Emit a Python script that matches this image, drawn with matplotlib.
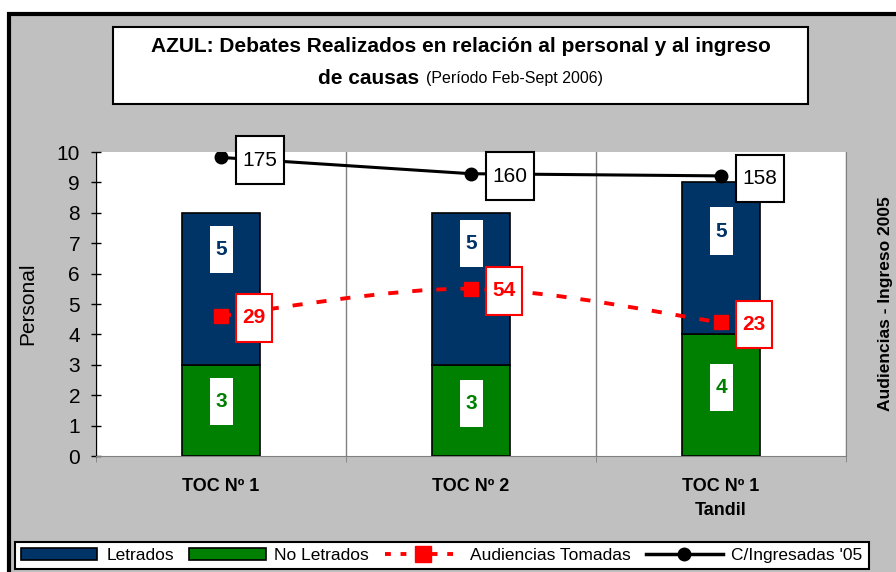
import numpy as np
import matplotlib
matplotlib.use("Agg")
import matplotlib.pyplot as plt
from matplotlib.patches import Rectangle, PathPatch
from matplotlib.path import Path
from matplotlib.lines import Line2D

plt.rcParams['font.family'] = ['Liberation Sans', 'DejaVu Sans']

# datos
categorias = ["TOC Nº 1", "TOC Nº 2", "TOC Nº 1\nTandil"]
no_letrados = [3, 3, 4]
letrados = [5, 5, 5]
audiencias = [29, 54, 23]
ingresadas = [175, 160, 158]

# posicion de las etiquetas de las barras (como en el original)
pos_lbl_letrados = [6.8, 7.0, 7.4]
pos_lbl_no_letrados = [1.8, 1.73, 2.25]

W, H = 896, 572
NAVY = '#003366'
GREEN = '#008000'
RED = '#FF0000'
GRAY = '#C0C0C0'

fig = plt.figure(figsize=(W / 100, H / 100), dpi=100, facecolor='white')

# fondo gris con borde negro
fig.patches.append(Rectangle((9 / W, -0.1), 1.2, (H - 14) / H + 0.1,
                             transform=fig.transFigure, facecolor=GRAY,
                             edgecolor='black', lw=3, zorder=-10))

# caja del titulo
fig.patches.append(Rectangle((113 / W, (H - 104) / H), (808 - 113) / W, (104 - 27) / H,
                             transform=fig.transFigure, facecolor='white',
                             edgecolor='black', lw=1.5, zorder=-5))
fig.text(460.5 / W, 1 - 47 / H, "AZUL: Debates Realizados en relación al personal y al ingreso",
         ha='center', va='center', fontsize=15, fontweight='bold')
t1 = fig.text(0, 1 - 78 / H, "de causas", ha='left', va='center', fontsize=15, fontweight='bold')
t2 = fig.text(0, 1 - 78 / H, "(Período Feb-Sept 2006)", ha='left', va='center', fontsize=11.5)

ax = fig.add_axes([96 / W, 116 / H, 750 / W, 304 / H])
ax.set_facecolor('white')
x = np.arange(len(categorias))
ancho = 0.31

b1 = ax.bar(x, no_letrados, ancho, color=GREEN, edgecolor='black', lw=1.2, label='No Letrados', zorder=3)
b2 = ax.bar(x, letrados, ancho, bottom=no_letrados, color=NAVY, edgecolor='black', lw=1.2,
            label='Letrados', zorder=3)

# etiquetas de las barras
for i in range(len(x)):
    for val, yy, col in ((letrados[i], pos_lbl_letrados[i], NAVY),
                         (no_letrados[i], pos_lbl_no_letrados[i], GREEN)):
        ax.add_patch(Rectangle((x[i] - 0.046, yy - 0.775), 0.092, 1.55,
                               facecolor='white', edgecolor='none', zorder=4))
        ax.text(x[i], yy, str(val), ha='center', va='center', color=col,
                fontsize=15, fontweight='bold', zorder=5)

ax.set_xlim(-0.5, 2.5)
ax.set_ylim(0, 10)
ax.set_yticks(range(0, 11))
ax.tick_params(axis='y', direction='inout', length=7, width=1, labelsize=15, pad=8)
ax.set_ylabel("Personal", fontsize=15, labelpad=14)

ax.set_xticks(x)
ax.set_xticklabels(categorias, fontsize=13, fontweight='bold', linespacing=1.5)
ax.tick_params(axis='x', which='major', length=0, pad=16)
ax.set_xticks([-0.5, 0.5, 1.5, 2.5], minor=True)
ax.tick_params(axis='x', which='minor', direction='out', length=4.5, color='#808080')
ax.grid(True, axis='x', which='minor', color='#808080', lw=1)
ax.set_axisbelow(True)

for s in ('top', 'right'):
    ax.spines[s].set_visible(False)
ax.spines['bottom'].set_color('#808080')
ax.spines['left'].set_color('black')

# eje secundario
ax2 = ax.twinx()
ax2.set_ylim(-100, 180)
ax2.set_yticks([])
for s in ('top', 'left', 'bottom'):
    ax2.spines[s].set_visible(False)
ax2.spines['right'].set_color('#808080')
ax2.set_ylabel("Audiencias - Ingreso 2005", fontsize=12.5, fontweight='bold', labelpad=23)

# linea suavizada de audiencias (curva tipo Excel)
pts = np.column_stack([x, audiencias]).astype(float)
verts = [pts[0]]
codes = [Path.MOVETO]
for k in range(len(pts) - 1):
    p0 = pts[k - 1] if k > 0 else pts[k]
    p3 = pts[k + 2] if k + 2 < len(pts) else pts[k + 1]
    c1 = pts[k] + (pts[k + 1] - p0) / 6
    c2 = pts[k + 1] - (p3 - pts[k]) / 6
    verts += [c1, c2, pts[k + 1]]
    codes += [Path.CURVE4] * 3
ax2.add_patch(PathPatch(Path(verts, codes), fill=False, edgecolor=RED, lw=2.8,
                        linestyle=(0, (2.6, 3.6)), zorder=3))
ax2.plot(x, audiencias, 's', color=RED, ms=10, zorder=4)

ax2.plot(x, ingresadas, '-o', color='black', lw=2.2, ms=9, zorder=4)

# etiquetas de las lineas
for i in range(len(x)):
    cx, cy = x[i] + 0.132, audiencias[i] - 1.8
    ax2.add_patch(Rectangle((cx - 0.072, cy - 22), 0.144, 44, facecolor='white',
                            edgecolor=RED, lw=1.5, zorder=5))
    ax2.text(cx, cy, str(audiencias[i]), ha='center', va='center', color=RED,
             fontsize=15, fontweight='bold', zorder=6)
    cx, cy = x[i] + 0.156, ingresadas[i] - 2.4
    ax2.add_patch(Rectangle((cx - 0.096, cy - 22), 0.192, 44, facecolor='white',
                            edgecolor='black', lw=1.5, zorder=5, clip_on=False))
    ax2.text(cx, cy, str(ingresadas[i]), ha='center', va='center', color='black',
             fontsize=15, zorder=6, clip_on=False)

# leyenda
handles = [Rectangle((0, 0), 1, 1, facecolor=NAVY, edgecolor='black', lw=1.2),
           Rectangle((0, 0), 1, 1, facecolor=GREEN, edgecolor='black', lw=1.2),
           Line2D([], [], color=RED, lw=2.8, linestyle=(0, (1.5, 2.5)), marker='s', ms=11),
           Line2D([], [], color='black', lw=2.5, marker='o', ms=9)]
labels = ['Letrados', 'No Letrados', 'Audiencias Tomadas', "C/Ingresadas '05"]
leg = fig.legend(handles, labels, loc='lower left', bbox_to_anchor=(15 / W, 3 / H),
                 ncol=4, fontsize=12.5, handlelength=4.4, handletextpad=0.5,
                 columnspacing=0.9, borderpad=0.35, fancybox=False, framealpha=1,
                 edgecolor='black', borderaxespad=0)
leg.get_frame().set_linewidth(1.5)

# centrar la segunda linea del titulo
fig.canvas.draw()
r = fig.canvas.get_renderer()
w1 = t1.get_window_extent(r).width
w2 = t2.get_window_extent(r).width
gap = 7
x0 = 460.5 - (w1 + gap + w2) / 2
t1.set_x(x0 / W)
t2.set_x((x0 + w1 + gap) / W)

fig.savefig("out.png", dpi=100, facecolor='white')
